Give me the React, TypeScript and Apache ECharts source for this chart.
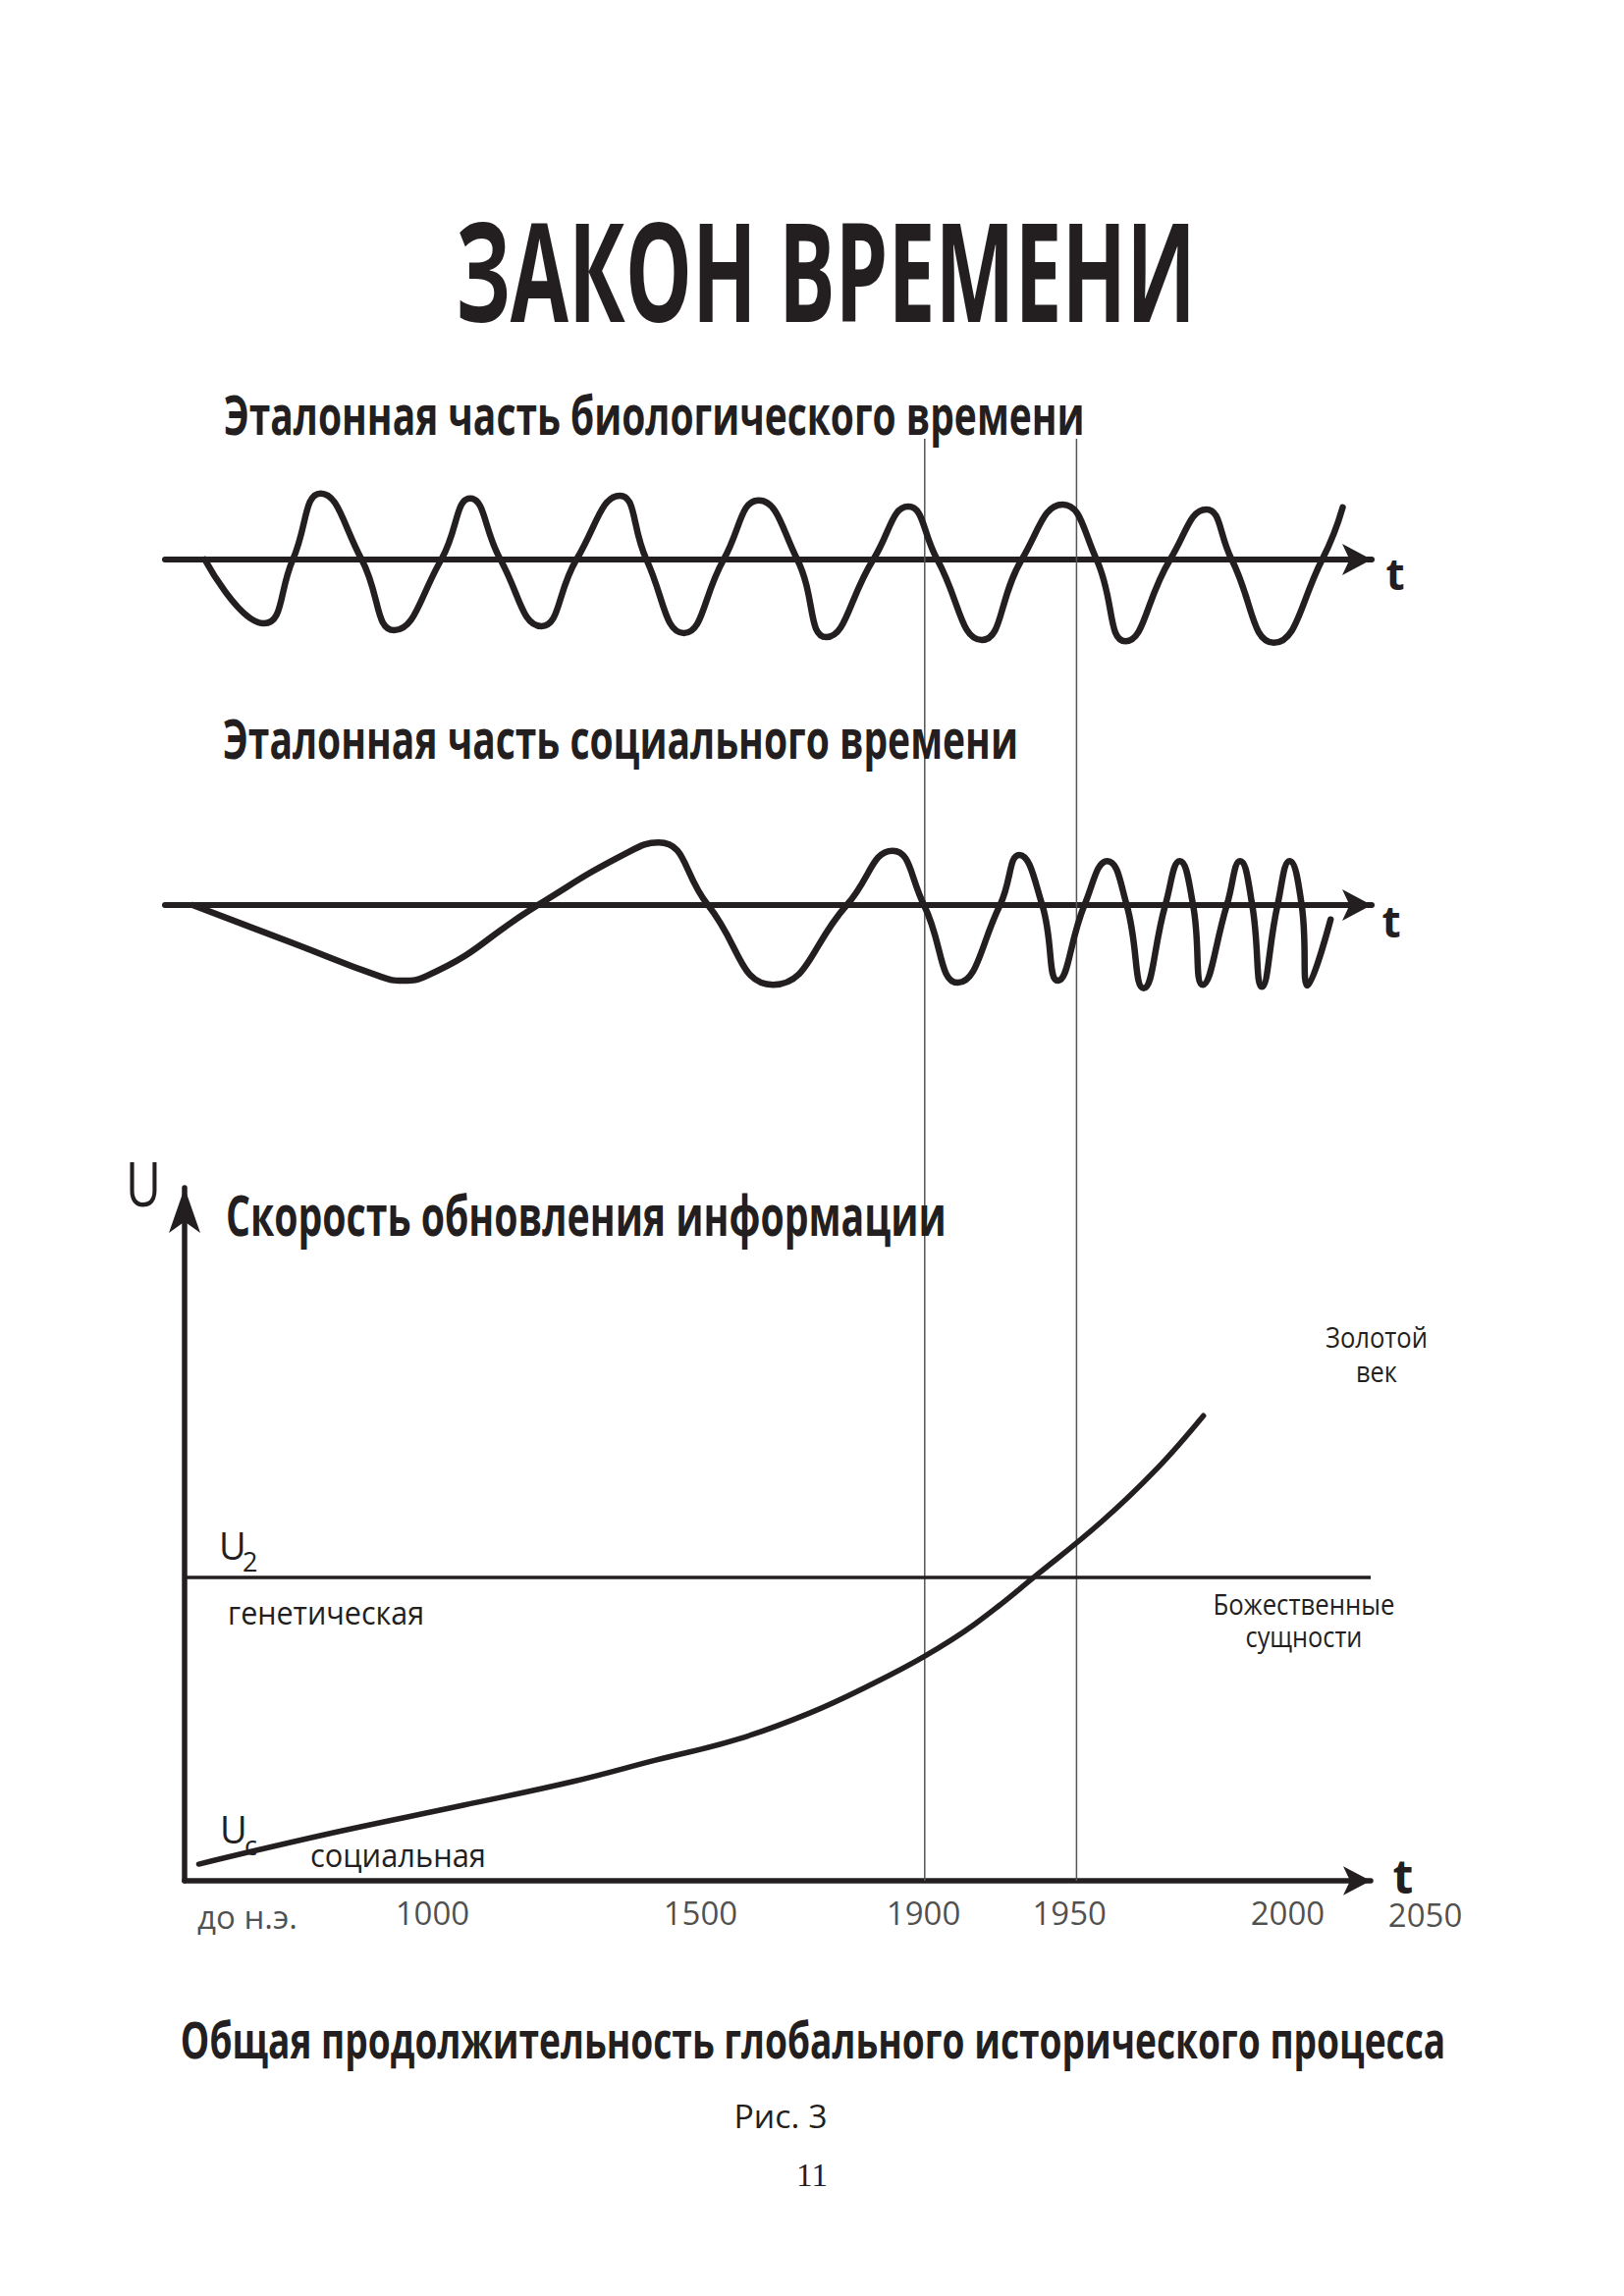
import React, { useEffect, useRef } from 'react';
import * as echarts from 'echarts';

// ---------- data (abstract units) ----------
// Upper panel: reference part of biological time (x: 0..100 along the t axis, y: amplitude)
const bioWaveX = [3.3, 8.2, 10.6, 12.9, 16.3, 19.0, 22.9, 25.3, 27.8, 31.2, 34.1, 37.7, 39.9, 43.0, 46.3, 49.2, 52.4, 54.8, 58.7, 61.6, 64.0, 67.7, 71.0, 74.4, 77.2, 79.6, 83.3, 86.3, 88.4, 91.9, 95.9, 97.6];
const bioWaveY = [0, -0.93, 0, 0.96, 0, -1.03, 0, 0.89, 0, -0.97, 0, 0.93, 0, -1.07, 0, 0.86, 0, -1.13, 0, 0.77, 0, -1.17, 0, 0.80, 0, -1.19, 0, 0.73, 0, -1.21, 0, 0.76];

// Middle panel: reference part of social time
const socialWaveX = [2.3, 10.7, 17.7, 19.7, 21.7, 30.9, 38.4, 40.9, 45.0, 50.4, 56.5, 60.3, 62.9, 65.7, 69.2, 70.8, 72.7, 74.0, 76.2, 78.1, 79.7, 81.1, 82.9, 84.1, 85.2, 86.0, 88.0, 89.1, 90.1, 90.9, 92.2, 93.2, 94.2, 94.7, 96.6];
const socialWaveY = [0, -0.56, -1.03, -1.10, -1.03, 0, 0.77, 0.91, 0, -1.16, 0, 0.79, 0, -1.13, 0, 0.73, 0, -1.10, 0, 0.64, 0, -1.21, 0, 0.64, 0, -1.16, 0, 0.64, 0, -1.19, 0, 0.64, 0, -1.17, -0.21];

// Lower panel: speed of information renewal U (social), x: 0..100 along the time axis, y: 0..100
const infoRateX = [1.2, 11.9, 23.5, 32.7, 39.7, 46.6, 52.7, 58.1, 62.3, 66.6, 71.9, 77.3, 82.0, 85.9];
const infoRateY = [2.4, 6.7, 10.9, 14.3, 17.4, 20.4, 24.2, 28.5, 32.3, 37.0, 44.2, 51.8, 59.5, 67.1];
const geneticLevel = 43.8; // U2

// Time-axis labels (positions along the lower axis) and era lines
const tickLabels = ['до н.э.', '1000', '1500', '1900', '1950', '2000', '2050'];
const tickPositions = [5.3, 20.9, 43.5, 62.3, 74.6, 93.0, 104.6];
const eraLineLabels = ['1900', '1950'];
const eraLinePositions = [62.4, 75.2];

// ---------- styles ----------
const INK = '#231f20';
const SANS = '"Open Sans", "Noto Sans", sans-serif';
const SERIF = '"Liberation Serif", "DejaVu Serif", serif';

type TextSpec = {
  text: string; x: number; baseline: number; size: number;
  weight?: number; family?: string; align: 'left' | 'center'; width?: number; lineHeight?: number;
};

const textSpecs: TextSpec[] = [
  { text: 'ЗАКОН ВРЕМЕНИ', x: 841, baseline: 328, size: 140, weight: 700, align: 'center', width: 754 },
  { text: 'Эталонная часть биологического времени', x: 228, baseline: 443, size: 55, weight: 700, align: 'left', width: 877 },
  { text: 'Эталонная часть социального времени', x: 227, baseline: 773, size: 55, weight: 700, align: 'left', width: 810 },
  { text: 'Скорость обновления информации', x: 230, baseline: 1259, size: 57, weight: 700, align: 'left', width: 734 },
  { text: 'Общая продолжительность глобального исторического процесса', x: 828, baseline: 2097, size: 52, weight: 700, align: 'center', width: 1289 },
  { text: 'Рис. 3', x: 795, baseline: 2168, size: 33, align: 'center', width: 95 },
  { text: '11', x: 827, baseline: 2227, size: 33, family: SERIF, align: 'center' },
  { text: 'U', x: 146, baseline: 1230, size: 63, align: 'center', width: 36 },
  { text: 't', x: 1421, baseline: 601, size: 44, weight: 700, align: 'center' },
  { text: 't', x: 1417, baseline: 955, size: 44, weight: 700, align: 'center' },
  { text: 't', x: 1429, baseline: 1929, size: 48, weight: 700, align: 'center', lineHeight: 26 },
  { text: 'Золотой', x: 1402, baseline: 1373, size: 30, align: 'center', width: 104 },
  { text: 'век', x: 1402, baseline: 1408, size: 30, align: 'center', width: 42 },
  { text: 'Божественные', x: 1328, baseline: 1645, size: 30, align: 'center', width: 185 },
  { text: 'сущности', x: 1328, baseline: 1678, size: 30, align: 'center', width: 119 },
  { text: 'генетическая', x: 232, baseline: 1655, size: 32, align: 'left', width: 200 },
  { text: 'U', x: 223, baseline: 1589, size: 38, align: 'left' },
  { text: '2', x: 247, baseline: 1601, size: 27, align: 'left' },
  { text: 'U', x: 224, baseline: 1878, size: 38, align: 'left' },
  { text: 'c', x: 249, baseline: 1890, size: 27, align: 'left' },
  { text: 'социальная', x: 316, baseline: 1902, size: 32, align: 'left', width: 179 },
];

function buildTexts() {
  const canvas = document.createElement('canvas');
  const ctx = canvas.getContext('2d') as CanvasRenderingContext2D;
  return textSpecs.map((s) => {
    const weight = s.weight ?? 400;
    const family = s.family ?? SANS;
    ctx.font = `${weight} ${s.size}px ${family}`;
    const m = ctx.measureText(s.text);
    const asc = (m as any).fontBoundingBoxAscent ?? s.size * 0.9;
    const desc = (m as any).fontBoundingBoxDescent ?? s.size * 0.25;
    const central = (asc - desc) / 2;
    const scaleX = s.width && m.width > 0 ? s.width / m.width : 1;
    const style: any = {
      text: s.text,
      x: 0,
      y: 0,
      fill: INK,
      fontSize: s.size,
      fontWeight: weight,
      fontFamily: family,
      align: s.align,
      textAlign: s.align,
      verticalAlign: 'middle',
      textVerticalAlign: 'middle',
    };
    if (s.lineHeight) style.lineHeight = s.lineHeight;
    return {
      type: 'text',
      x: s.x,
      y: s.baseline - central,
      scaleX,
      silent: true,
      z: 10,
      style,
    };
  });
}

function buildOption(): any {
  const hiddenAxisParts = {
    axisTick: { show: false },
    axisLabel: { show: false },
    splitLine: { show: false },
  };
  const waveXAxis = (gridIndex: number) => ({
    gridIndex,
    type: 'value',
    min: 0,
    max: 100,
    axisLine: {
      show: true,
      onZero: true,
      symbol: ['none', 'arrow'],
      symbolSize: [24, 30],
      lineStyle: { color: INK, width: 6 },
    },
    ...hiddenAxisParts,
  });
  const waveYAxis = (gridIndex: number) => ({
    gridIndex, type: 'value', min: -1.4, max: 1.4, show: false,
  });
  const waveSeries = (idx: number, xs: number[], ys: number[], name: string) => ({
    name,
    type: 'line',
    xAxisIndex: idx,
    yAxisIndex: idx,
    data: xs.map((x, i) => [x, ys[i]]),
    smooth: 0.5,
    symbol: 'none',
    showSymbol: false,
    silent: true,
    clip: false,
    lineStyle: { color: INK, width: 6.5, cap: 'round', join: 'round' },
    z: 3,
  });

  return {
    animation: false,
    backgroundColor: '#ffffff',
    textStyle: { fontFamily: SANS, color: INK },
    grid: [
      { left: 168, top: 472, width: 1229, height: 196 },
      { left: 168, top: 824, width: 1229, height: 196 },
      { left: 188, top: 1210, width: 1208, height: 706 },
      { left: 188, top: 447, width: 1208, height: 1469 },
    ],
    xAxis: [
      waveXAxis(0),
      waveXAxis(1),
      {
        gridIndex: 2,
        type: 'value',
        min: 0,
        max: 100,
        axisLine: {
          show: true,
          onZero: true,
          symbol: ['none', 'arrow'],
          symbolSize: [22, 28],
          lineStyle: { color: INK, width: 5.5 },
        },
        ...hiddenAxisParts,
      },
      { gridIndex: 3, type: 'value', min: 0, max: 100, show: false },
    ],
    yAxis: [
      waveYAxis(0),
      waveYAxis(1),
      {
        gridIndex: 2,
        type: 'value',
        min: 0,
        max: 100,
        axisLine: {
          show: true,
          onZero: true,
          symbol: ['none', 'arrow'],
          symbolSize: [24, 46],
          lineStyle: { color: INK, width: 5.5 },
        },
        ...hiddenAxisParts,
      },
      { gridIndex: 3, type: 'value', min: 0, max: 1, show: false },
    ],
    series: [
      waveSeries(0, bioWaveX, bioWaveY, 'Биологическое время'),
      waveSeries(1, socialWaveX, socialWaveY, 'Социальное время'),
      {
        name: 'Скорость обновления информации',
        type: 'line',
        xAxisIndex: 2,
        yAxisIndex: 2,
        data: infoRateX.map((x, i) => [x, infoRateY[i]]),
        smooth: 0.4,
        symbol: 'none',
        showSymbol: false,
        silent: true,
        lineStyle: { color: INK, width: 5.5, cap: 'round' },
        z: 3,
        markLine: {
          silent: true,
          symbol: 'none',
          label: { show: false },
          lineStyle: { color: INK, width: 3.5, type: 'solid' },
          data: [{ yAxis: geneticLevel }],
        },
      },
      ...eraLinePositions.map((pos, i) => ({
        name: eraLineLabels[i],
        type: 'line',
        xAxisIndex: 3,
        yAxisIndex: 3,
        data: [[pos, 0], [pos, 1]],
        symbol: 'none',
        showSymbol: false,
        silent: true,
        lineStyle: { color: '#555555', width: 1.5 },
        z: 1,
      })),
      {
        name: 'Подписи оси времени',
        type: 'scatter',
        xAxisIndex: 2,
        yAxisIndex: 2,
        clip: false,
        silent: true,
        symbol: 'circle',
        symbolSize: 1,
        itemStyle: { color: 'rgba(0,0,0,0)' },
        data: tickPositions.map((pos, i) => ({
          value: [pos, 0],
          name: tickLabels[i],
          label: { distance: i === 0 ? 21 : i === tickLabels.length - 1 ? 19 : 17 },
        })),
        label: {
          show: true,
          position: 'bottom',
          formatter: (p: any) => p.name,
          color: INK,
          fontFamily: SANS,
          fontSize: 33,
          fontWeight: 400,
          lineHeight: 30,
        },
        z: 5,
      },
    ],
    graphic: { elements: buildTexts() },
  };
}

export default function App() {
  const ref = useRef<HTMLDivElement | null>(null);
  useEffect(() => {
    document.body.style.margin = '0';
    document.body.style.background = '#ffffff';
    if (!ref.current) return;
    const chart = echarts.init(ref.current, undefined, { renderer: 'svg' });
    chart.setOption(buildOption());
    return () => {
      chart.dispose();
    };
  }, []);
  return <div ref={ref} style={{ width: 1654, height: 2339, background: '#ffffff' }} />;
}
